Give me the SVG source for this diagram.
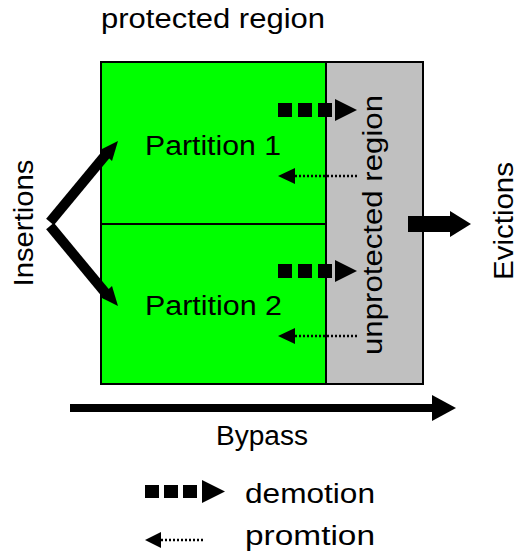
<svg xmlns="http://www.w3.org/2000/svg" width="518" height="556" viewBox="0 0 518 556">
  <style>
    text { font-family: "Liberation Sans", Arial, sans-serif; font-size: 27px; fill: #000; }
    .box { stroke: #000; stroke-width: 2; }
    .dot { stroke: #000; stroke-width: 2.5; stroke-dasharray: 2 2; fill: none; }
    .sq { fill: #000; }
  </style>
  <defs>
    <!-- demotion: three squares and a triangle head -->
    <g id="demote">
      <rect class="sq" x="0" y="3" width="14" height="14"/>
      <rect class="sq" x="20" y="3" width="14" height="14"/>
      <rect class="sq" x="40" y="3" width="14" height="14"/>
      <polygon points="57,-1 79,10 57,21" fill="#000"/>
    </g>
    <!-- promotion: small head and a dotted tail -->
    <g id="promote">
      <polygon points="0,0 17,-8 17,8" fill="#000"/>
      <line class="dot" x1="17" y1="0" x2="79" y2="0"/>
    </g>
  </defs>

  <text x="101" y="28" textLength="224" lengthAdjust="spacingAndGlyphs">protected region</text>

  <g id="partition1">
    <rect class="box" x="101" y="62" width="225" height="162" fill="#00ff00"/>
    <text x="145" y="155" textLength="136" lengthAdjust="spacingAndGlyphs">Partition 1</text>
  </g>
  <g id="partition2">
    <rect class="box" x="101" y="224" width="225" height="160" fill="#00ff00"/>
    <text x="145" y="315" textLength="137" lengthAdjust="spacingAndGlyphs">Partition 2</text>
  </g>
  <g id="unprotected">
    <rect class="box" x="326" y="62" width="97" height="322" fill="#c0c0c0"/>
    <text transform="translate(382,225) rotate(-90)" text-anchor="middle" textLength="260" lengthAdjust="spacingAndGlyphs">unprotected region</text>
  </g>

  <g id="connectors">
    <use href="#demote" x="278" y="100"/>
    <use href="#promote" x="278" y="176"/>
    <use href="#demote" x="278" y="261"/>
    <use href="#promote" x="278" y="336"/>
    <!-- insertions -->
    <polyline points="108,152 50,222" fill="none" stroke="#000" stroke-width="10"/>
    <polygon points="118,141 100,150 112,161" fill="#000"/>
    <polyline points="50,226 108,296" fill="none" stroke="#000" stroke-width="10"/>
    <polygon points="118,306 100,297 112,286" fill="#000"/>
    <!-- evictions -->
    <rect x="408" y="216" width="43" height="16" fill="#000"/>
    <polygon points="450,211 471,224 450,237" fill="#000"/>
    <!-- bypass -->
    <rect x="70" y="404" width="365" height="8" fill="#000"/>
    <polygon points="432,395 456,408 432,421" fill="#000"/>
  </g>

  <text transform="translate(33,223) rotate(-90)" text-anchor="middle" textLength="127" lengthAdjust="spacingAndGlyphs">Insertions</text>
  <text transform="translate(513,221) rotate(-90)" text-anchor="middle" textLength="118" lengthAdjust="spacingAndGlyphs">Evictions</text>
  <text x="262" y="445" text-anchor="middle" textLength="92" lengthAdjust="spacingAndGlyphs">Bypass</text>

  <g id="legend">
    <rect class="sq" x="145" y="485" width="14" height="13"/>
    <rect class="sq" x="164" y="485" width="14" height="13"/>
    <rect class="sq" x="183" y="485" width="14" height="13"/>
    <polygon points="202,480 225,491.5 202,503" fill="#000"/>
    <text x="245" y="503" textLength="130" lengthAdjust="spacingAndGlyphs">demotion</text>
    <polygon points="145,540 161,532 161,548" fill="#000"/>
    <line class="dot" x1="161" y1="540" x2="204" y2="540"/>
    <text x="245" y="545" textLength="130" lengthAdjust="spacingAndGlyphs">promtion</text>
  </g>
</svg>
